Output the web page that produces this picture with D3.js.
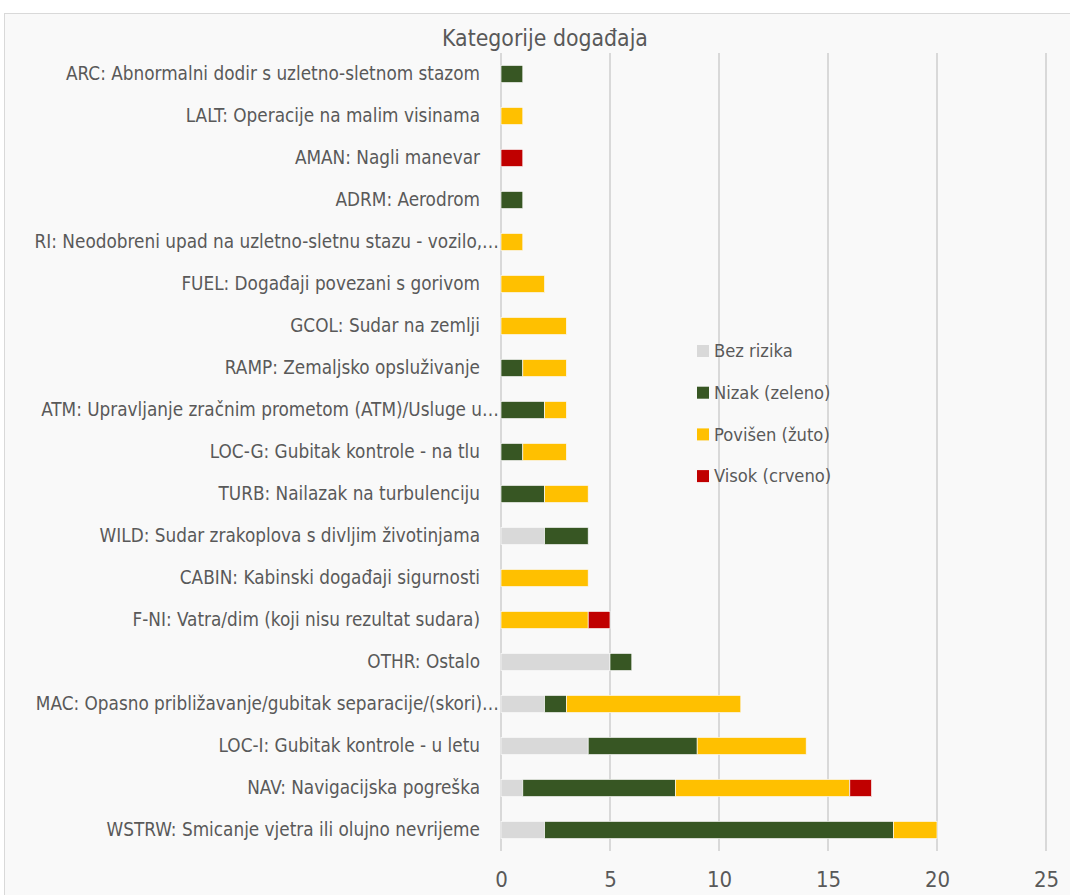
<!DOCTYPE html>
<html>
<head>
<meta charset="utf-8">
<script src="https://cdn.jsdelivr.net/npm/d3@7"></script>
<style>
  body { margin: 0; background: #ffffff; }
  text { font-family: "DejaVu Sans Condensed", "Liberation Sans Narrow", sans-serif; font-stretch: condensed; }
</style>
</head>
<body>
<div id="chart"></div>
<script>
// categories, top to bottom
var categories = [
  "ARC: Abnormalni dodir s uzletno-sletnom stazom",
  "LALT: Operacije na malim visinama",
  "AMAN: Nagli manevar",
  "ADRM: Aerodrom",
  "RI: Neodobreni upad na uzletno-sletnu stazu - vozilo,…",
  "FUEL: Događaji povezani s gorivom",
  "GCOL: Sudar na zemlji",
  "RAMP: Zemaljsko opsluživanje",
  "ATM: Upravljanje zračnim prometom (ATM)/Usluge u…",
  "LOC-G: Gubitak kontrole - na tlu",
  "TURB: Nailazak na turbulenciju",
  "WILD: Sudar zrakoplova s divljim životinjama",
  "CABIN: Kabinski događaji sigurnosti",
  "F-NI: Vatra/dim (koji nisu rezultat sudara)",
  "OTHR: Ostalo",
  "MAC: Opasno približavanje/gubitak separacije/(skori)…",
  "LOC-I: Gubitak kontrole - u letu",
  "NAV: Navigacijska pogreška",
  "WSTRW: Smicanje vjetra ili olujno nevrijeme"
];

var bezRizika = [0, 0, 0, 0, 0, 0, 0, 0, 0, 0, 0, 2, 0, 0, 5, 2, 4, 1, 2];
var nizak     = [1, 0, 0, 1, 0, 0, 0, 1, 2, 1, 2, 2, 0, 0, 1, 1, 5, 7, 16];
var povisen   = [0, 1, 0, 0, 1, 2, 3, 2, 1, 2, 2, 0, 4, 4, 0, 8, 5, 8, 2];
var visok     = [0, 0, 1, 0, 0, 0, 0, 0, 0, 0, 0, 0, 0, 1, 0, 0, 0, 1, 0];

var seriesNames = ["Bez rizika", "Nizak (zeleno)", "Povišen (žuto)", "Visok (crveno)"];
var seriesColors = ["#d9d9d9", "#375623", "#ffc000", "#c00000"];
var xTicks = [0, 5, 10, 15, 20, 25];

var width = 1070, height = 895;

var svg = d3.select("#chart")
  .append("svg")
  .attr("width", width)
  .attr("height", height);

// chart frame
svg.append("rect")
  .attr("x", 4.5).attr("y", 13.5)
  .attr("width", width + 10).attr("height", height)
  .attr("fill", "#f9f9f9")
  .attr("stroke", "#d9d9d9");

var margin = { top: 53, left: 501, right: 1046, bottom: 851 };

var x = d3.scaleLinear()
  .domain([0, 25])
  .range([margin.left, margin.right]);

var y = d3.scaleBand()
  .domain(categories)
  .range([margin.top, margin.bottom])
  .paddingInner(0.59)
  .paddingOuter(0.295);

// build table for stack
var table = categories.map(function(c, i) {
  return { cat: c, s0: bezRizika[i], s1: nizak[i], s2: povisen[i], s3: visok[i] };
});
var stack = d3.stack().keys(["s0", "s1", "s2", "s3"]);
var stacked = stack(table);

// gridlines
svg.append("g")
  .selectAll("line")
  .data(xTicks)
  .enter()
  .append("line")
  .attr("x1", function(d) { return x(d); })
  .attr("x2", function(d) { return x(d); })
  .attr("y1", margin.top)
  .attr("y2", margin.bottom)
  .attr("stroke", "#d9d9d9")
  .attr("stroke-width", 2);

// bars
svg.append("g")
  .selectAll("g")
  .data(stacked)
  .enter()
  .append("g")
  .attr("fill", function(d, i) { return seriesColors[i]; })
  .selectAll("rect")
  .data(function(d) { return d.filter(function(e) { return e[1] - e[0] > 0; }); })
  .enter()
  .append("rect")
  .attr("x", function(d) { return x(d[0]); })
  .attr("width", function(d) { return x(d[1]) - x(d[0]); })
  .attr("y", function(d) { return y(d.data.cat); })
  .attr("height", y.bandwidth())
  .attr("stroke", "#f9f9f9")
  .attr("stroke-width", 0.7);

// category labels
var yAxis = d3.axisLeft(y).tickSize(0).tickPadding(21);
var gy = svg.append("g")
  .attr("transform", "translate(" + margin.left + ",0)")
  .call(yAxis);
gy.select(".domain").remove();
gy.selectAll("text")
  .attr("fill", "#595959")
  .style("font-size", "18.8px")
  .attr("dx", function(d) { return d.slice(-1) === "…" ? 19 : 0; });

// x axis labels
var xAxis = d3.axisBottom(x).tickValues(xTicks).tickSize(0).tickPadding(20);
var gx = svg.append("g")
  .attr("transform", "translate(0," + margin.bottom + ")")
  .call(xAxis);
gx.select(".domain").remove();
gx.selectAll("text")
  .attr("fill", "#595959")
  .style("font-size", "22px");

// title
svg.append("text")
  .attr("x", 545)
  .attr("y", 46)
  .attr("text-anchor", "middle")
  .attr("fill", "#595959")
  .style("font-size", "22.8px")
  .text("Kategorije događaja");

// legend
var legend = svg.append("g")
  .selectAll("g")
  .data(seriesNames)
  .enter()
  .append("g")
  .attr("transform", function(d, i) { return "translate(697," + (351 + i * 41.7) + ")"; });
legend.append("rect")
  .attr("x", 0).attr("y", -6)
  .attr("width", 12).attr("height", 12)
  .attr("fill", function(d, i) { return seriesColors[i]; });
legend.append("text")
  .attr("x", 17)
  .attr("y", 0)
  .attr("dy", "0.35em")
  .attr("fill", "#595959")
  .style("font-size", "18.2px")
  .text(function(d) { return d; });
</script>
</body>
</html>
